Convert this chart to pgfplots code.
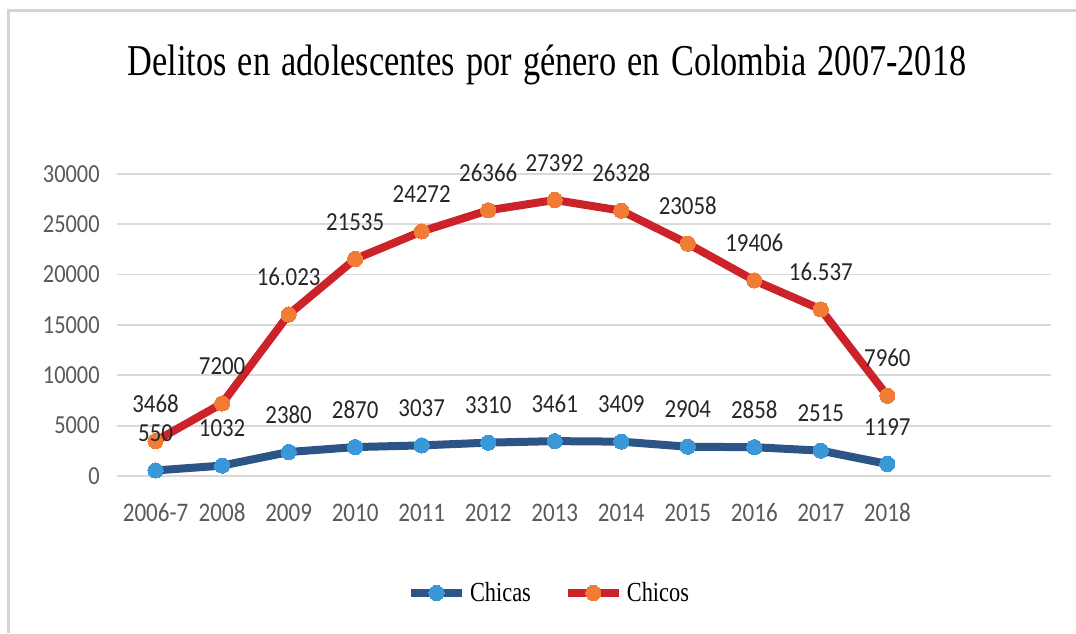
\documentclass[border=0pt]{standalone}
\usepackage{pgfplots}
\usepackage{pgfplotstable}
\pgfplotsset{compat=1.18}
\usepackage{fontspec}
\setmainfont{Liberation Serif}
\newfontfamily\titlefont[FakeStretch=0.78, WordSpace=1.3]{Liberation Serif}
\newfontfamily\legfont[FakeStretch=0.81]{Liberation Serif}
\newfontfamily\numfont[FakeStretch=0.88]{Carlito}
\newfontfamily\tickfont[FakeStretch=0.86]{Carlito}
\definecolor{gridc}{HTML}{D9D9D9}
\definecolor{framec}{HTML}{D4D4D4}
\definecolor{tickc}{HTML}{595959}
\definecolor{labc}{HTML}{262626}
\definecolor{bline}{HTML}{2C5486}
\definecolor{bmark}{HTML}{3A97D8}
\definecolor{rline}{HTML}{CC2229}
\definecolor{rmark}{HTML}{F07C36}

\pgfplotstableread{
x y lab
0 550 550
1 1032 1032
2 2380 2380
3 2870 2870
4 3037 3037
5 3310 3310
6 3461 3461
7 3409 3409
8 2904 2904
9 2858 2858
10 2515 2515
11 1197 1197
}\chicas

\pgfplotstableread{
x y lab
0 3468 3468
1 7200 7200
2 16023 16.023
3 21535 21535
4 24272 24272
5 26366 26366
6 27392 27392
7 26328 26328
8 23058 23058
9 19406 19406
10 16537 16.537
11 7960 7960
}\chicos

\begin{document}
\begin{tikzpicture}
\useasboundingbox (0,0) rectangle (538pt,316.5pt);
\draw[framec, line width=1.4pt] (4.25pt,0) -- (4.25pt,311.15pt) -- (538pt,311.15pt);
\node[anchor=base, inner sep=0pt, font=\titlefont\fontsize{22}{24}\selectfont] at (273.5pt,278.5pt) {Delitos en adolescentes por género en Colombia 2007-2018};
\begin{axis}[
  at={(58.5pt,78.5pt)}, anchor=south west,
  scale only axis, width=467pt, height=151.15pt,
  xmin=-0.58, xmax=13.46, ymin=0, ymax=30000,
  clip=false,
  axis line style={draw=none},
  major tick length=0pt,
  xtick={0,...,11},
  xticklabels={2006-7,2008,2009,2010,2011,2012,2013,2014,2015,2016,2017,2018},
  ytick={0,5000,...,30000},
  ymajorgrids, grid style={gridc, line width=0.9pt},
  scaled y ticks=false,
  /pgf/number format/.cd, 1000 sep={}, assume math mode=true, /pgfplots/.cd,
  yticklabel style={anchor=east, inner sep=0pt, xshift=-8.5pt, text=tickc, font=\tickfont\fontsize{13}{14}\selectfont},
  xticklabel style={anchor=base, inner sep=0pt, yshift=-22.8pt, text=tickc, font=\tickfont\fontsize{13.4}{14}\selectfont},
  legend style={at={(0.4636,-0.387)}, anchor=center, draw=none, fill=none, legend columns=2,
    font=\legfont\fontsize{13.8}{15}\selectfont, inner sep=0pt,
    /tikz/every even column/.append style={column sep=14.5pt}},
  legend cell align=left,
  legend image code/.code={\draw[#1, mark repeat=2, mark phase=2] plot coordinates {(0pt,0pt) (12.75pt,0pt) (25.5pt,0pt)};},
]
\addplot[bline, line width=4pt, mark=*, mark size=3.8pt, mark options={solid, line width=0pt, draw=bmark, fill=bmark}] table[x=x,y=y] {\chicas};
\addlegendentry{Chicas}
\addplot[rline, line width=4pt, mark=*, mark size=3.8pt, mark options={solid, line width=0pt, draw=rmark, fill=rmark}] table[x=x,y=y] {\chicos};
\addlegendentry{Chicos}
\addplot[draw=none, mark=none, forget plot, point meta=explicit symbolic, nodes near coords,
  every node near coord/.append style={anchor=base, inner sep=0pt, yshift=14.4pt, text=labc, font=\numfont\fontsize{13}{14}\selectfont}]
  table[x=x,y=y,meta=lab] {\chicas};
\addplot[draw=none, mark=none, forget plot, point meta=explicit symbolic, nodes near coords,
  every node near coord/.append style={anchor=base, inner sep=0pt, yshift=14.4pt, text=labc, font=\numfont\fontsize{13}{14}\selectfont}]
  table[x=x,y=y,meta=lab] {\chicos};
\end{axis}
\end{tikzpicture}
\end{document}
